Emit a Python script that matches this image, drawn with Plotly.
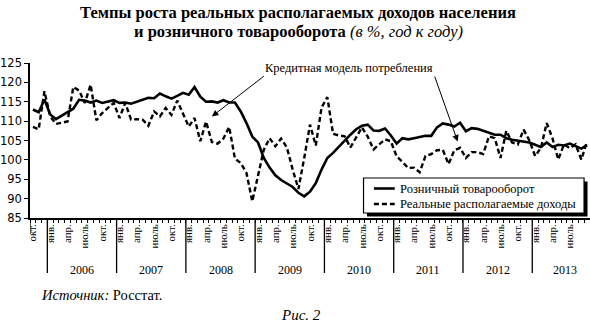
import plotly.graph_objects as go

# ---------------- data (monthly, Oct 2005 .. Oct 2013, % y/y) ----------------
retail = [
    113.0, 112.3, 115.6, 111.7, 110.5, 111.4, 112.1, 113.2, 115.5, 115.3,
    114.8, 115.3, 114.7, 115.0, 115.4, 114.7, 114.8, 114.5, 115.0, 115.7,
    116.0, 115.9, 117.1, 116.4, 115.8, 116.5, 117.3, 116.8, 118.8, 116.3,
    115.0, 115.1, 114.8, 115.4, 114.8, 114.8, 112.5, 109.5, 106.0, 104.5,
    100.5, 98.0, 96.0, 94.8, 94.0, 93.0, 91.5, 90.6, 91.8, 94.0,
    97.5, 100.5, 101.8, 103.4, 105.0, 106.5, 107.9, 108.8, 109.1, 107.6,
    107.5, 108.1, 106.3, 104.2, 105.6, 105.3, 105.6, 106.0, 106.2, 106.2,
    108.4, 109.4, 109.1, 108.6, 109.6, 107.4, 108.2, 108.0, 107.5, 107.1,
    106.5, 106.5, 105.6, 105.2, 105.0, 104.8, 104.5, 103.9, 103.3, 104.5,
    103.3, 103.9, 103.7, 104.2, 103.5, 102.9, 103.8,
]
income = [
    108.5, 107.9, 117.7, 111.2, 109.3, 109.7, 109.9, 118.8, 117.9, 114.7,
    119.4, 110.2, 112.1, 113.4, 114.7, 110.8, 114.7, 110.4, 110.5, 110.4,
    108.8, 112.5, 111.2, 113.4, 111.6, 115.3, 112.0, 108.6, 110.8, 104.8,
    109.9, 104.6, 104.2, 105.5, 108.5, 100.3, 99.2, 96.6, 89.3, 96.0,
    102.6, 105.6, 103.5, 105.5, 103.2, 97.5, 92.5, 100.5, 109.1, 103.7,
    113.5, 116.2, 106.7, 106.3, 106.1, 103.2, 106.0, 108.4, 106.0, 102.7,
    104.0, 105.3, 104.8, 100.9, 99.5, 97.9, 98.0, 96.8, 101.0, 101.5,
    102.5, 102.6, 98.9, 102.5, 103.1, 100.5, 102.0, 102.0, 101.5, 106.1,
    105.6, 100.5, 107.5, 104.5, 104.0, 107.8, 105.0, 101.0, 103.1, 109.5,
    105.6, 100.1, 104.0, 103.0, 104.0, 100.1, 104.8,
]
start_month = 9            # October (0 = January)
start_year = 2005
month_names = {0: "янв.", 3: "апр.", 6: "июль", 9: "окт."}
years = [2006, 2007, 2008, 2009, 2010, 2011, 2012, 2013]
y_ticks = [85, 90, 95, 100, 105, 110, 115, 120, 125]
name_retail = "Розничный товарооборот"
name_income = "Реальные располагаемые доходы"

# ---------------- layout helpers ----------------
W, H = 590, 324
L, R, T, B = 25, 0, 63, 106
SERIF = "Liberation Serif"


def px(x):
    return (x - L) / (W - L - R)


def py(y):
    return (H - B - y) / (H - T - B)


n = len(retail)
xs = list(range(n))

fig = go.Figure()
fig.add_trace(go.Scatter(x=xs, y=retail, mode="lines", name=name_retail,
                         line=dict(color="black", width=2.6), showlegend=False))
fig.add_trace(go.Scatter(x=xs, y=income, mode="lines", name=name_income,
                         line=dict(color="black", width=2.4, dash="5px,3px"),
                         showlegend=False))

# month tick labels
tickvals, ticktext = [], []
for i in xs:
    mth = (start_month + i) % 12
    if mth in month_names:
        tickvals.append(i)
        ticktext.append(month_names[mth])

shapes = []
annotations = []

# year separators and labels
for k, yr in enumerate(years):
    first = (12 - start_month) % 12 + 12 * k       # index of January
    b0 = first - 0.5
    shapes.append(dict(type="line", xref="x", yref="paper", x0=b0, x1=b0,
                       y0=0, y1=py(273), line=dict(color="black", width=1.3)))
    end = min(b0 + 12, n - 0.5 + 1.5)
    annotations.append(dict(text=str(yr), xref="x", yref="paper",
                            x=(b0 + end) / 2, y=py(270), showarrow=False,
                            xanchor="center", yanchor="middle",
                            font=dict(family=SERIF, size=12, color="black")))
# left axis extension
shapes.append(dict(type="line", xref="x", yref="paper", x0=-0.5, x1=-0.5,
                   y0=0, y1=py(234), line=dict(color="black", width=1.3)))

# manual legend with shadow
shapes.append(dict(type="rect", xref="paper", yref="paper",
                   x0=px(365), x1=px(587.5), y0=py(216.5), y1=py(181.5),
                   fillcolor="black", line=dict(width=0)))
shapes.append(dict(type="rect", xref="paper", yref="paper",
                   x0=px(361.5), x1=px(584), y0=py(213), y1=py(178),
                   fillcolor="white", line=dict(color="black", width=1.2)))
shapes.append(dict(type="line", xref="paper", yref="paper",
                   x0=px(372), x1=px(393), y0=py(188.5), y1=py(188.5),
                   line=dict(color="black", width=2.6)))
shapes.append(dict(type="line", xref="paper", yref="paper",
                   x0=px(372), x1=px(393), y0=py(204), y1=py(204),
                   line=dict(color="black", width=2.4, dash="5px,3px")))
for txt, yy in [(name_retail, 188.5), (name_income, 204)]:
    annotations.append(dict(text=txt, xref="paper", yref="paper", x=px(396),
                            y=py(yy), xanchor="left", yanchor="middle",
                            showarrow=False,
                            font=dict(family=SERIF, size=12.5, color="black")))

# title
annotations.append(dict(
    text="<b>Темпы роста реальных располагаемых доходов населения</b>",
    xref="paper", yref="paper", x=px(295), y=py(12.2), xanchor="center",
    yanchor="middle", showarrow=False,
    font=dict(family=SERIF, size=16.5, color="black")))
annotations.append(dict(
    text="<b>и розничного товарооборота</b> <i>(в %, год к году)</i>",
    xref="paper", yref="paper", x=px(296), y=py(31.5), xanchor="center",
    yanchor="middle", showarrow=False,
    font=dict(family=SERIF, size=16.5, color="black")))

# callout
annotations.append(dict(text="Кредитная модель потребления", xref="paper",
                        yref="paper", x=px(346.5), y=py(68), xanchor="center",
                        yanchor="middle", showarrow=False,
                        font=dict(family=SERIF, size=12.5, color="black")))
for (hx, hy), (tx, ty) in [((208.5, 116.5), (262, 75)),
                           ((456.5, 141.5), (433, 75))]:
    annotations.append(dict(text="", xref="paper", yref="paper", x=px(hx),
                            y=py(hy), ax=tx - hx, ay=ty - hy, showarrow=True,
                            arrowhead=2, arrowsize=1.3, arrowwidth=1,
                            arrowcolor="black"))

# footer
annotations.append(dict(text="<i>Источник:</i> Росстат.", xref="paper",
                        yref="paper", x=px(34), y=py(295), xanchor="left",
                        yanchor="middle", showarrow=False,
                        font=dict(family=SERIF, size=14.5, color="black")))
annotations.append(dict(text="<i>Рис. 2</i>", xref="paper", yref="paper",
                        x=px(298), y=py(314.5), xanchor="center",
                        yanchor="middle", showarrow=False,
                        font=dict(family=SERIF, size=15, color="black")))

fig.update_layout(
    width=W, height=H, margin=dict(l=L, r=R, t=T, b=B, pad=0),
    paper_bgcolor="white", plot_bgcolor="white",
    shapes=shapes, annotations=annotations, showlegend=False,
    xaxis=dict(range=[-0.5, n - 0.5], showgrid=False, zeroline=False,
               showline=True, linecolor="black", linewidth=1.5,
               tickmode="array", tickvals=tickvals, ticktext=ticktext,
               tickangle=-90, ticks="", ticklen=0,
               tickfont=dict(family=SERIF, size=11, color="black"),
               minor=dict(ticks="outside", tick0=-0.5, dtick=1, ticklen=3,
                          tickwidth=1, tickcolor="black", showgrid=False)),
    yaxis=dict(range=[85, 125], showgrid=False, zeroline=False,
               showline=True, linecolor="black", linewidth=1.5,
               tickmode="array", tickvals=y_ticks, ticks="outside",
               ticklen=4, tickwidth=1.2, tickcolor="black",
               tickfont=dict(family="DejaVu Sans", size=11.5, color="black")),
)

fig.write_html("out.html")
